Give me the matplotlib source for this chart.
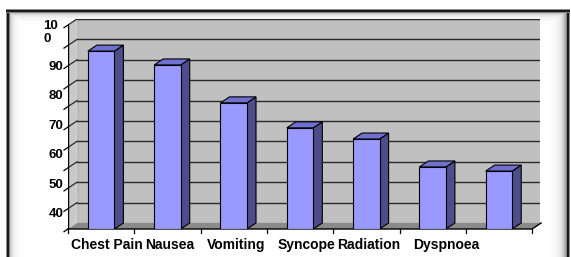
import numpy as np
import matplotlib
matplotlib.use('Agg')
import matplotlib.pyplot as plt
from matplotlib.patches import Polygon

plt.rcParams['font.family'] = ['Liberation Sans', 'DejaVu Sans']

# data
categories = ['Chest Pain', 'Nausea', 'Vomiting', 'Syncope', 'Radiation', 'Dyspnoea', '']
values = [95.4, 90.7, 77.8, 69.3, 65.5, 56.0, 54.6]
ytick_values = [40, 50, 60, 70, 80, 90, 100]
ytick_labels = ['40', '50', '60', '70', '80', '90', '10\n0']
label_nudge = [0.09, 0.04, 0.03, 0.09, 0.03, 0.21, 0.0]

W, H = 571, 257
fig = plt.figure(figsize=(W / 100, H / 100), dpi=100)

# background card: white with dark frame and a soft inner shadow
xx = np.arange(W)[None, :].astype(float)
yy = np.arange(H)[:, None].astype(float)
img = np.ones((H, W))
img = np.minimum(img, np.where(xx >= 10, 1 - 0.22 * np.exp(-(xx - 10) / 3.0), 1))
img = np.minimum(img, np.where(xx <= 565, 1 - 0.35 * np.exp(-(565 - xx) / 4.0), 1))
img = np.minimum(img, np.where(yy >= 13, 1 - 0.22 * np.exp(-(yy - 13) / 3.0), 1))
img[:9, :] = 1
img[:, :6] = 1
img[:, 570:] = 1
for c, g in [(6, 0.55), (7, 0.1), (8, 0.1), (9, 0.5), (566, 0.5), (567, 0.1), (568, 0.1), (569, 0.55)]:
    img[9:, c] = g
for r, g in [(9, 0.55), (10, 0.1), (11, 0.1), (12, 0.5)]:
    img[r, 6:570] = g
bg = fig.add_axes([0, 0, 1, 1])
bg.imshow(img, cmap='gray', vmin=0, vmax=1, extent=(0, W, H, 0), aspect='auto',
          interpolation='nearest')
bg.axis('off')

# main plot (front plane from x=68px, floor at y=229px)
S = 66.3   # px per category
K = 2.94   # px per value unit
ax = fig.add_axes([68 / W, 1 - 229 / H, (540 - 68) / W, (229 - 19) / H])
ax.set_facecolor('none')
n = len(categories)
x0 = -0.5
xr = x0 + n
x1 = x0 + (540 - 68) / S
y0 = 40 - (229 - 214) / K
y1 = 40 + (214 - 19) / K
dx = 9 / S
dy = 6 / K
grid = y0 + np.arange(11) * (20.4 / K)

# walls and floor
ax.add_patch(Polygon([(x0 + dx, y0 + dy), (xr + dx, y0 + dy), (xr + dx, y1), (x0 + dx, y1)],
                     fc='#c0c0c0', ec='#9a9a9a', lw=1, zorder=1))
ax.add_patch(Polygon([(x0, y0), (x0 + dx, y0 + dy), (x0 + dx, y1), (x0, y1 - dy)],
                     fc='#c9c9c9', ec='#d8d8d8', lw=0.8, zorder=1))
ax.add_patch(Polygon([(x0, y0), (xr, y0), (xr + dx, y0 + dy), (x0 + dx, y0 + dy)],
                     fc='#8a8a8a', ec='none', zorder=1))

# gridlines on back and side wall, ticks on the value axis
for k, g in enumerate(grid):
    if k > 0:
        ax.plot([x0 + dx, xr + dx], [g + dy, g + dy], color='#2a2a2a', lw=1.0, zorder=2)
        ax.plot([x0, x0 + dx], [g, g + dy], color='#2a2a2a', lw=0.9, zorder=2)
    ax.plot([x0 - 4 / S, x0], [g - 2.7 / K, g], color='black', lw=0.9, zorder=3, clip_on=False)

# axis lines
ax.plot([x0, x0], [y0, grid[-1]], color='black', lw=1.0, zorder=3)
ax.plot([x0, xr, xr + dx], [y0, y0, y0 + dy], color='black', lw=1.0, zorder=3, clip_on=False)
for i in range(n + 1):
    ax.plot([x0 + i, x0 + i], [y0, y0 - 4 / K], color='black', lw=0.9, zorder=3, clip_on=False)

# 3D bars
hw = 0.2
for i, v in enumerate(values):
    front = [(i - hw, y0), (i + hw, y0), (i + hw, v), (i - hw, v)]
    side = [(i + hw, y0), (i + hw + dx, y0 + dy), (i + hw + dx, v + dy), (i + hw, v)]
    top = [(i - hw, v), (i + hw, v), (i + hw + dx, v + dy), (i - hw + dx, v + dy)]
    ax.add_patch(Polygon(side, fc='#4d4d8c', ec='black', lw=0.8, zorder=4))
    ax.add_patch(Polygon(top, fc='#7070d0', ec='black', lw=0.8, zorder=4))
    ax.add_patch(Polygon(front, fc='#9999ff', ec='black', lw=0.8, zorder=5))

# value labels
for v, lbl in zip(ytick_values, ytick_labels):
    if '\n' in lbl:
        ax.text(x0 - 25 / S, v + 5 / K, lbl, ha='left', va='center', multialignment='left',
                fontsize=9.5, fontweight='bold', linespacing=1.1, clip_on=False)
    else:
        ax.text(x0 - 4.5 / S, v, lbl, ha='right', va='center',
                fontsize=9.5, fontweight='bold', clip_on=False)

# category labels
for i, (cat, nd) in enumerate(zip(categories, label_nudge)):
    ax.text(i + nd, 40 + (214 - 245) / K, cat, ha='center', va='center',
            fontsize=10, fontweight='bold', clip_on=False)

ax.set_xlim(x0, x1)
ax.set_ylim(y0, y1)
ax.axis('off')

fig.savefig('out.png', dpi=100)
